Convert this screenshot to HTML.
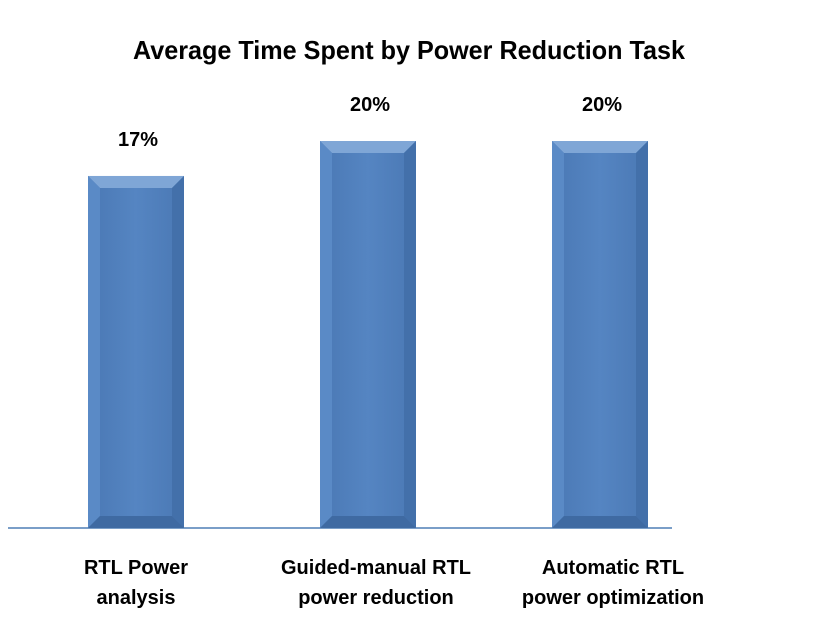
<!DOCTYPE html>
<html><head><meta charset="utf-8"><style>
body{margin:0;background:#fff;}
svg text{font-family:"Liberation Sans Narrow","Liberation Sans",sans-serif;font-weight:bold;fill:#000;}
</style></head><body>
<svg id="chart" width="816" height="632" viewBox="0 0 816 632" xmlns="http://www.w3.org/2000/svg">
<defs>
<linearGradient id="face" x1="0" y1="0" x2="1" y2="0">
<stop offset="0" stop-color="#4a78b4"/><stop offset="0.5" stop-color="#5585c2"/><stop offset="1" stop-color="#4a78b4"/>
</linearGradient>
</defs>
<text x="133" y="59" font-size="26" textLength="552" lengthAdjust="spacingAndGlyphs">Average Time Spent by Power Reduction Task</text>
<line x1="8" y1="528" x2="672" y2="528" stroke="#4f7fb5" stroke-width="1.5"/>
<g id="bars"></g>
</svg>
<script>
const categories = [["RTL Power","analysis"],["Guided-manual RTL","power reduction"],["Automatic RTL","power optimization"]];
const values = [17, 20, 20];
const valueLabels = ["17%","20%","20%"];
const yMin = -13.2, yMax = 20;
const baseY = 528, topY = 141;
function y(v){ return baseY - (v - yMin) / (yMax - yMin) * (baseY - topY); }
function xc(i){ return 136 + i * 232; }
const labelShift = [0, 8, 13];
const bw = 96, bev = 12;
const g = document.getElementById('bars');
const NS = 'http://www.w3.org/2000/svg';
function mk(tag, attrs){ const e = document.createElementNS(NS, tag); for (const k in attrs) e.setAttribute(k, attrs[k]); g.appendChild(e); return e; }
values.forEach((v, i) => {
  const x0 = xc(i) - bw/2, x1 = xc(i) + bw/2, yt = y(v), yb = baseY;
  const r = mk('rect', {x:x0, y:yt, width:bw, height:yb-yt, fill:'url(#face)'});
  
  
  mk('polygon', {points:`${x0},${yt} ${x1},${yt} ${x1-bev},${yt+bev} ${x0+bev},${yt+bev}`, fill:'#7fa6d6'});
  mk('polygon', {points:`${x0},${yt} ${x0+bev},${yt+bev} ${x0+bev},${yb-bev} ${x0},${yb}`, fill:'#5a8ac6'});
  mk('polygon', {points:`${x1},${yt} ${x1-bev},${yt+bev} ${x1-bev},${yb-bev} ${x1},${yb}`, fill:'#4370aa'});
  mk('polygon', {points:`${x0},${yb} ${x0+bev},${yb-bev} ${x1-bev},${yb-bev} ${x1},${yb}`, fill:'#3f6aa2'});
  const t = mk('text', {x:xc(i)+2, y:yt-30, 'text-anchor':'middle', 'font-size':20});
  t.textContent = valueLabels[i];
  
  
  categories[i].forEach((line, j) => {
    const c = mk('text', {x:xc(i)+labelShift[i], y:574 + j*30, 'text-anchor':'middle', 'font-size':20});
    c.textContent = line;
    
    
  });
});
</script>
</body></html>
